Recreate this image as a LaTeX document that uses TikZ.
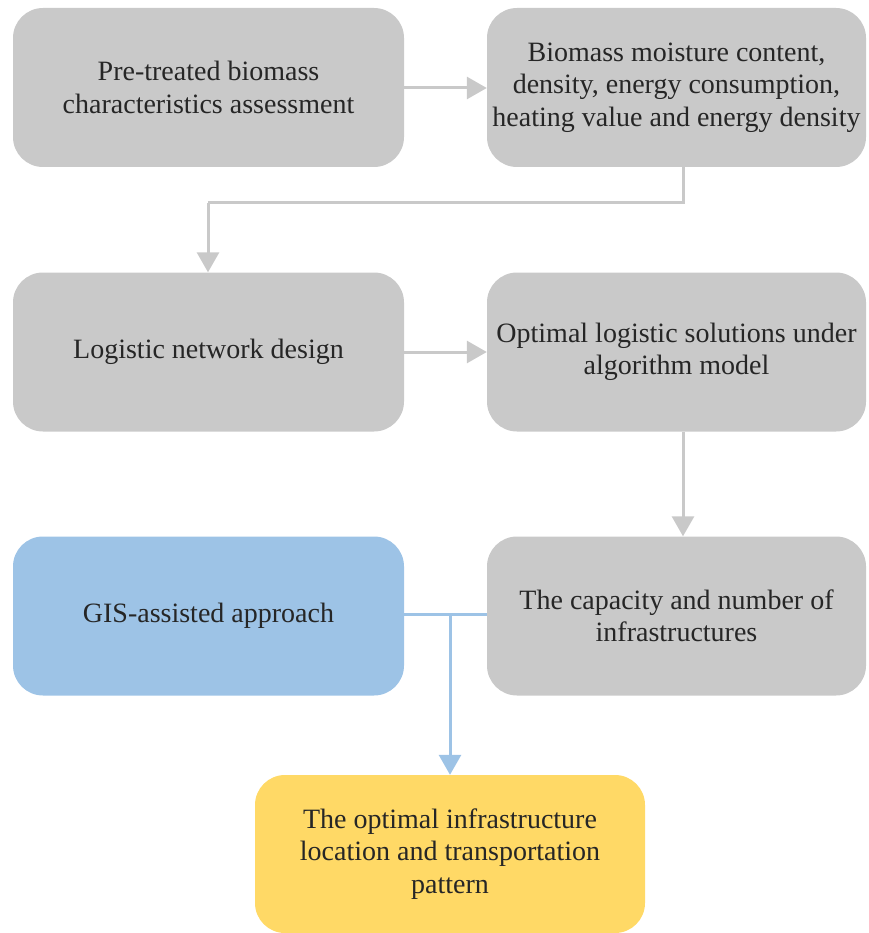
\documentclass[tikz,border=0pt]{standalone}
\usepackage{fontspec}
\setmainfont{Liberation Serif}
\usetikzlibrary{arrows.meta}
\definecolor{boxgray}{HTML}{C9C9C9}
\definecolor{boxblue}{HTML}{9DC3E6}
\definecolor{boxyellow}{HTML}{FFD966}
\definecolor{txt}{HTML}{262626}
\begin{document}
\begin{tikzpicture}[x=1pt,y=-1pt,
  card/.style={rounded corners=30pt, minimum width=391pt, minimum height=159pt,
    align=center, text=txt, font=\fontsize{28}{32.5}\selectfont, inner sep=0pt},
  wide/.style={card, minimum width=379pt},
  grey/.style={card, fill=boxgray},
  flow/.style={draw=boxgray, line width=3pt, -{Triangle[length=20pt,width=22pt]}},
  bflow/.style={draw=boxblue, line width=3pt},
]
\useasboundingbox (0,0) rectangle (868,933);
\node[grey] (b1) at (208.5,87.5) {Pre-treated biomass\\characteristics assessment};
\node[grey, wide] (b2) at (676.5,87.5) {Biomass moisture content,\\density, energy consumption,\\heating value and energy density};
\node[grey] (b3) at (208.5,352) {Logistic network design};
\node[grey, wide] (b4) at (676.5,352) {Optimal logistic solutions under\\algorithm model};
\node[card, fill=boxblue] (b5) at (208.5,616) {GIS-assisted approach};
\node[grey, wide] (b6) at (676.5,616) {The capacity and number of\\infrastructures};
\node[card, fill=boxyellow, minimum width=390pt, minimum height=158pt] (b7) at (450,854) {The optimal infrastructure\\location and transportation\\pattern};

\coordinate (bend1) at (683,203);
\coordinate (bend2) at (208,203);
\coordinate (join) at (450,614);

\draw[flow] (b1.east |- 0,88) -- (b2.west |- 0,88);
\draw[flow, -] (b2.south -| bend1) -- (bend1) -- (bend2);
\draw[flow] (bend2) -- (bend2 |- b3.north);
\draw[flow] (b3.east) -- (b4.west);
\draw[flow] (b4.south -| bend1) -- (bend1 |- b6.north);
\draw[bflow] (b5.east |- join) -- (b6.west |- join);
\draw[bflow, -{Triangle[length=20pt,width=22pt]}] (join) -- (join |- b7.north);
\end{tikzpicture}
\end{document}
